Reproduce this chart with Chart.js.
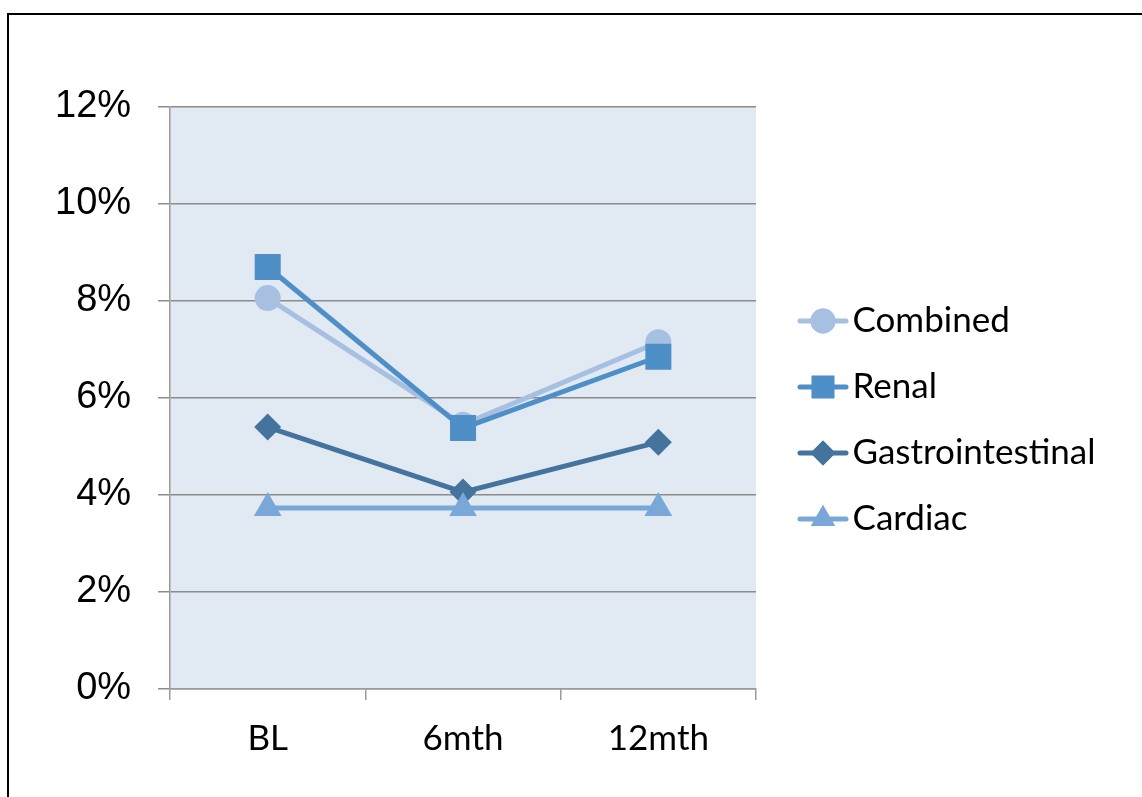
<!DOCTYPE html>
<html>
<head>
<meta charset="utf-8">
<script src="https://cdn.jsdelivr.net/npm/chart.js@4"></script>
<style>
  html, body { margin: 0; padding: 0; background: #fff; overflow: hidden; }
  #wrap { position: absolute; left: 0; top: 0; width: 1142px; height: 797px; }
  #frame { position: absolute; left: 7px; top: 13px; width: 1200px; height: 900px;
           border-left: 2px solid #000; border-top: 2px solid #000; pointer-events: none; }
</style>
</head>
<body>
<div id="wrap"><canvas id="c"></canvas></div>
<div id="frame"></div>
<script>
// ---- data ----
const categories = ['BL', '6mth', '12mth'];
const seriesNames = ['Combined', 'Renal', 'Gastrointestinal', 'Cardiac'];
const combined = [8.06, 5.45, 7.15];
const renal = [8.70, 5.38, 6.85];
const gastrointestinal = [5.40, 4.06, 5.09];
const cardiac = [3.73, 3.73, 3.73];
const yTickValues = [0, 2, 4, 6, 8, 10, 12];
const yTickLabels = ['0%', '2%', '4%', '6%', '8%', '10%', '12%'];

// ---- styles ----
const colors = ['#A7C0E1', '#4F8FC8', '#44739E', '#79A7D8'];
const styles = ['circle', 'rect', 'rectRot', 'triangle'];
const radii = [13, 18.4, 13.5, 16];
const legendRadii = [12.5, 16, 12.5, 14];

function makeIcon(i) {
  const cv = document.createElement('canvas');
  cv.width = 76; cv.height = 40;
  const ctx = cv.getContext('2d');
  ctx.strokeStyle = colors[i];
  ctx.lineWidth = 5;
  ctx.lineCap = 'round';
  ctx.beginPath(); ctx.moveTo(27, 20); ctx.lineTo(73, 20); ctx.stroke();
  ctx.fillStyle = colors[i];
  ctx.beginPath();
  Chart.helpers.drawPoint(ctx, {pointStyle: styles[i], radius: legendRadii[i], borderWidth: 0, rotation: 0}, 50, 20);
  ctx.fill();
  return cv;
}

const seriesData = [combined, renal, gastrointestinal, cardiac];
const datasets = seriesNames.map((name, i) => ({
  label: name,
  data: seriesData[i],
  borderColor: colors[i],
  backgroundColor: colors[i],
  pointBackgroundColor: colors[i],
  pointBorderWidth: 0,
  borderWidth: 5,
  pointStyle: styles[i],
  pointRadius: radii[i],
  pointHoverRadius: radii[i],
  tension: 0,
  order: 4 - i
}));

const bgPlugin = {
  id: 'plotBg',
  beforeDraw(chart) {
    const {ctx, chartArea: a} = chart;
    ctx.save();
    ctx.fillStyle = '#E1E9F3';
    ctx.fillRect(a.left, a.top, a.right - a.left, a.bottom - a.top);
    ctx.restore();
  }
};

const icons = seriesNames.map((_, i) => makeIcon(i));

const chart = new Chart(document.getElementById('c'), {
  type: 'line',
  data: { labels: categories, datasets },
  plugins: [bgPlugin],
  options: {
    responsive: true,
    maintainAspectRatio: false,
    animation: false,
    layout: { padding: { left: 28, top: 107, bottom: 20, right: 186 } },
    plugins: {
      tooltip: { enabled: false },
      legend: {
        position: 'right',
        fullSize: false,
        maxWidth: 200,
        title: { display: true, text: '', padding: { top: 0, bottom: 0 }, font: { size: 44, lineHeight: 1 } },
        labels: {
          usePointStyle: true,
          pointStyleWidth: 48,
          padding: 31,
          color: '#000',
          font: { family: 'Lato', size: 35 },
          sort: (a, b) => a.datasetIndex - b.datasetIndex,
          generateLabels(chart) {
            const items = Chart.defaults.plugins.legend.labels.generateLabels(chart);
            items.forEach(it => { it.pointStyle = icons[it.datasetIndex]; });
            return items;
          }
        }
      }
    },
    scales: {
      x: {
        offset: true,
        grid: { offset: true, drawOnChartArea: false, drawTicks: true, tickLength: 11, color: '#9A9A9A', lineWidth: 1.5 },
        border: { display: true, color: '#9A9A9A', width: 1.5 },
        ticks: { color: '#000', padding: 21, font: { family: 'Lato', size: 35, lineHeight: 1 } }
      },
      y: {
        min: 0, max: 12,
        afterBuildTicks(scale) { scale.ticks = yTickValues.map(v => ({ value: v })); },
        grid: { color: '#8C8C8C', lineWidth: 1.5, tickLength: 12, drawTicks: true },
        border: { display: true, color: '#9A9A9A', width: 1.5 },
        ticks: {
          color: '#000', padding: 27,
          font: { family: 'Liberation Sans', size: 38, lineHeight: 1.2 },
          callback: (v) => yTickLabels[yTickValues.indexOf(v)]
        }
      }
    }
  }
});
// let legend text run past its (width-capped) box instead of being clipped
if (chart.legend) {
  chart.legend.draw = function () { if (this.options.display) this._draw(); };
  chart.draw();
}
</script>
</body>
</html>
